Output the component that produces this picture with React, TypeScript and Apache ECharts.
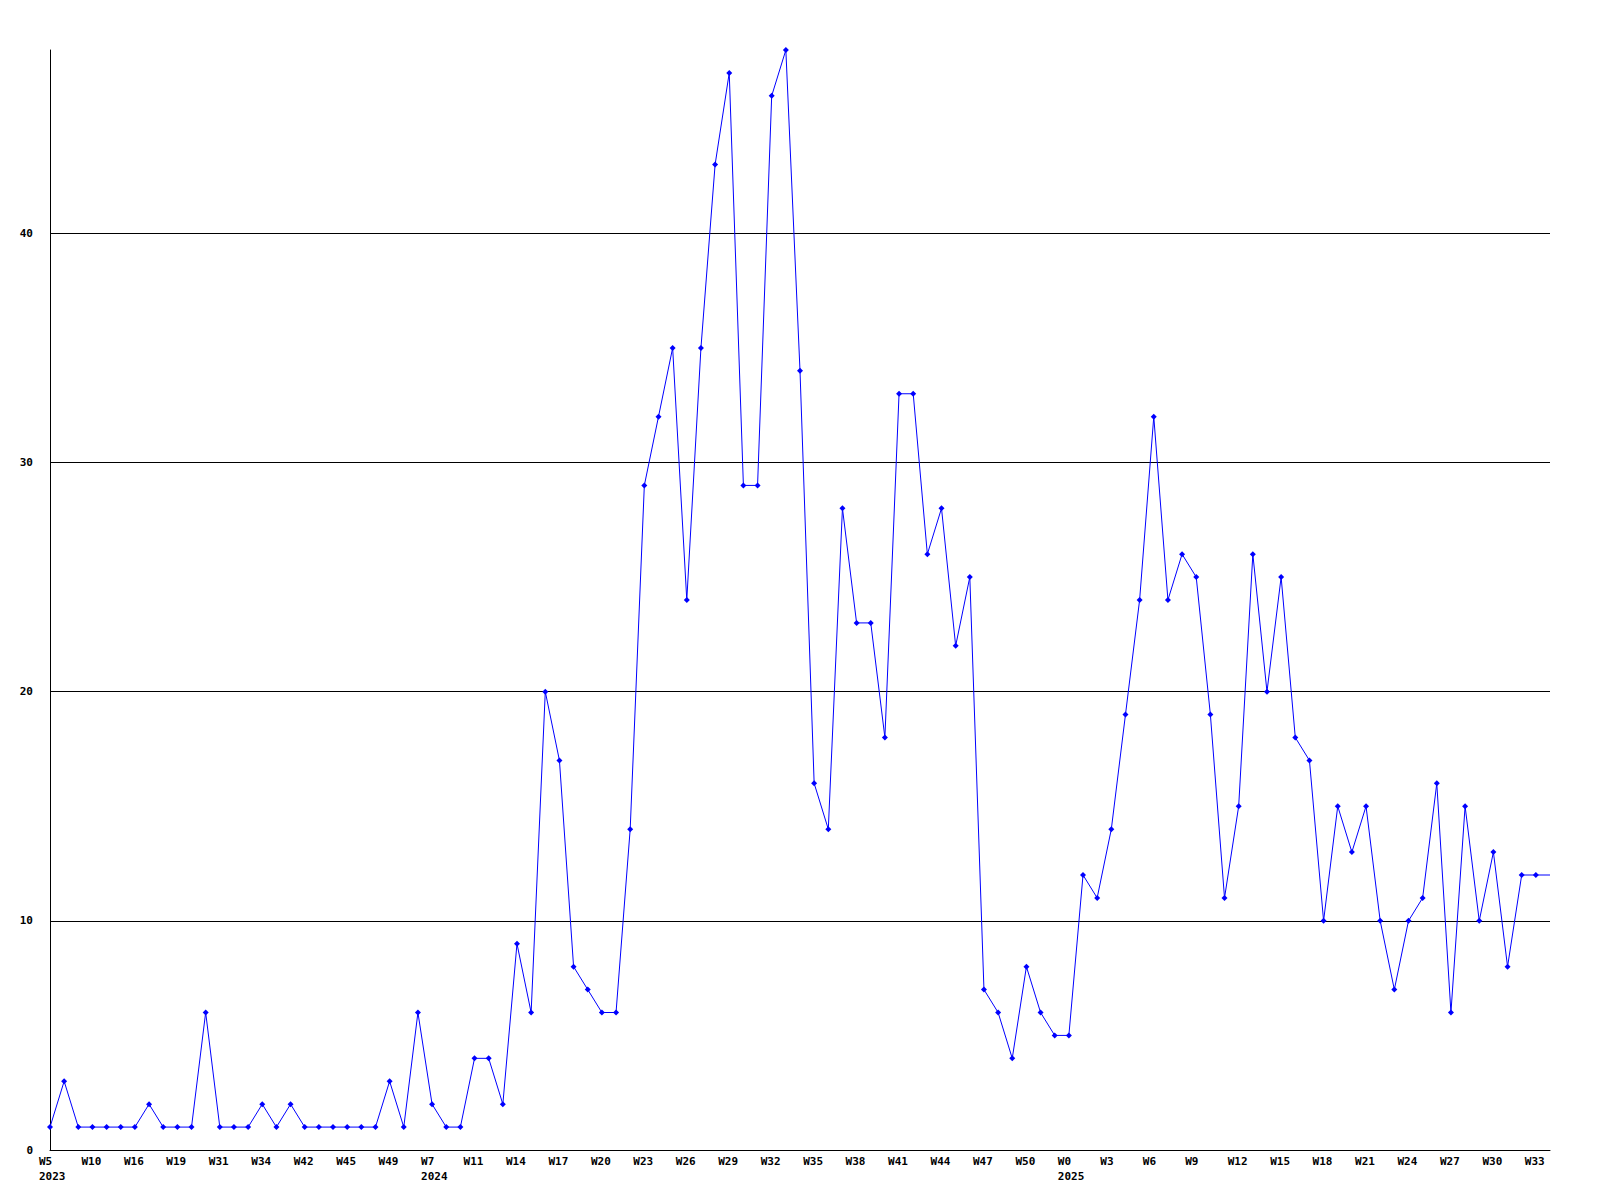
import React, { useEffect, useRef } from "react";
import * as echarts from "echarts";

const weeks: string[] = [
  "W5", "W6", "W8", "W10", "W12", "W14", "W16", "W17", "W18", "W19", "W22", "W27",
  "W31", "W32", "W33", "W34", "W36", "W40", "W42", "W43", "W44", "W45", "W46", "W47",
  "W49", "W50", "W52",
  "W7", "W8", "W9",
  "W11", "W12", "W13", "W14", "W15", "W16", "W17", "W18", "W19", "W20", "W21", "W22",
  "W23", "W24", "W25", "W26", "W27", "W28", "W29", "W30", "W31", "W32", "W33", "W34",
  "W35", "W36", "W37", "W38", "W39", "W40", "W41", "W42", "W43", "W44", "W45", "W46",
  "W47", "W48", "W49", "W50", "W51", "W52",
  "W0", "W1", "W2", "W3", "W4", "W5", "W6", "W7", "W8", "W9", "W10", "W11", "W12",
  "W13", "W14", "W15", "W16", "W17", "W18", "W19", "W20", "W21", "W22", "W23", "W24",
  "W25", "W26", "W27", "W28", "W29", "W30", "W31", "W32", "W33", "W34",
];

// index of the first category of each year -> year label
const yearStarts: Record<number, string> = { 0: "2023", 27: "2024", 72: "2025" };

const counts: number[] = [
  1, 3, 1, 1, 1, 1, 1, 2, 1, 1, 1, 6, 1, 1, 1, 2, 1, 2, 1, 1, 1, 1, 1, 1,
  3, 1, 6, 2, 1, 1, 4, 4, 2, 9, 6, 20, 17, 8, 7, 6, 6, 14, 29, 32, 35, 24,
  35, 43, 47, 29, 29, 46, 48, 34, 16, 14, 28, 23, 23, 18, 33, 33, 26, 28, 22, 25,
  7, 6, 4, 8, 6, 5, 5, 12, 11, 14, 19, 24, 32, 24, 26, 25, 19, 11, 15, 26, 20, 25,
  18, 17, 10, 15, 13, 15, 10, 7, 10, 11, 16, 6, 15, 10, 13, 8, 12, 12, 12,
];

const yTicks = { min: 0, max: 48, interval: 10 };

const FONT = "DejaVu Sans Mono";

export default function App() {
  const ref = useRef<HTMLDivElement>(null);
  useEffect(() => {
    if (!ref.current) return;
    const chart = echarts.init(ref.current, null, { renderer: "svg" });
    const lastIdx = counts.length - 1;
    chart.setOption({
      animation: false,
      backgroundColor: "#ffffff",
      grid: { left: 50, right: 50, top: 50, bottom: 50, containLabel: false },
      xAxis: {
        type: "category",
        data: weeks,
        boundaryGap: false,
        axisLine: { show: true, lineStyle: { color: "#000000", width: 1 } },
        axisTick: { show: false },
        splitLine: { show: false },
        axisLabel: {
          interval: 2,
          margin: 4,
          color: "#000000",
          fontFamily: FONT,
          fontWeight: "bold",
          fontSize: 11,
          lineHeight: 15,
          formatter: (value: string, index: number) => {
            const y = yearStarts[index];
            return y ? `{a|${value}}\n{a|${y}}` : `{a|${value}}`;
          },
          rich: {
            a: {
              width: 22,
              align: "left",
              color: "#000000",
              fontFamily: FONT,
              fontWeight: "bold",
              fontSize: 11,
              lineHeight: 15,
            },
          },
        },
      },
      yAxis: {
        type: "value",
        min: yTicks.min,
        max: yTicks.max,
        interval: yTicks.interval,
        axisLine: { show: true, lineStyle: { color: "#000000", width: 1 } },
        axisTick: { show: false },
        splitLine: {
          show: true,
          showMinLine: false,
          showMaxLine: false,
          lineStyle: { color: "#000000", width: 1 },
        },
        axisLabel: {
          showMaxLabel: false,
          margin: 17,
          color: "#000000",
          fontFamily: FONT,
          fontWeight: "bold",
          fontSize: 11,
          formatter: (v: number) => (v % 10 === 0 ? String(v) : ""),
        },
      },
      series: [
        {
          type: "line",
          data: counts.map((v, i) =>
            i === lastIdx ? { value: v, symbol: "none" } : v
          ),
          symbol: "diamond",
          symbolSize: 6,
          showAllSymbol: true,
          itemStyle: { color: "#0000ff" },
          lineStyle: { color: "#0000ff", width: 1 },
          clip: false,
        },
      ],
    });
    return () => chart.dispose();
  }, []);
  return (
    <div
      ref={ref}
      style={{ position: "absolute", left: 0, top: 0, width: 1600, height: 1200 }}
    />
  );
}
